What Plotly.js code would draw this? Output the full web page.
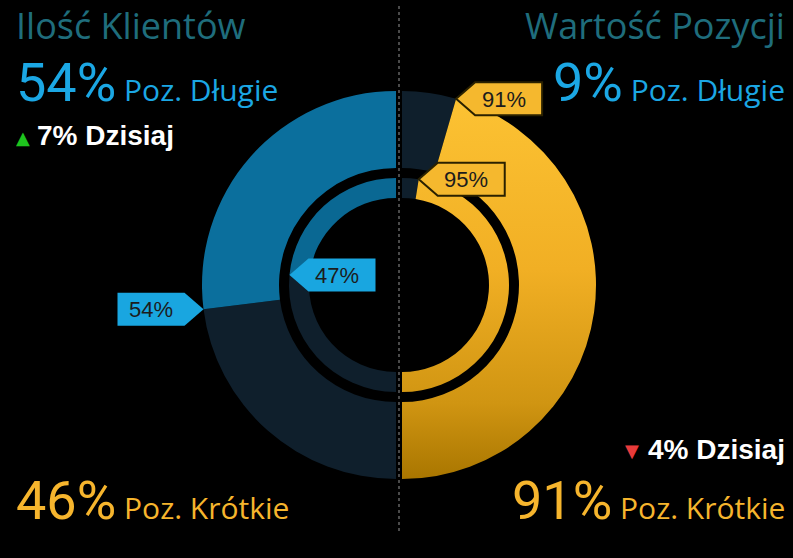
<!DOCTYPE html>
<html>
<head>
<meta charset="utf-8">
<script src="https://cdn.plot.ly/plotly-3.0.1.min.js"></script>
<style>html,body{margin:0;padding:0;background:#000;}#chart{width:793px;height:558px;}</style>
</head>
<body>
<div id="chart"></div>
<script>
// ---- data ----
const panelTitles = ['Ilość Klientów', 'Wartość Pozycji'];
const sideLabels = ['Poz. Długie', 'Poz. Krótkie'];
const clientsOuter = [54, 46];      // long, short (outer ring, left)
const clientsInner = [47];          // long (inner ring, left)
const valueOuter = [9, 91];         // long, short (outer ring, right)
const valueInner = [95];            // short (inner ring, right)
const todayChange = ['7% Dzisiaj', '4% Dzisiaj'];

// ---- style / geometry ----
const W = 793, H = 558;
const CXL = 396, CXR = 402, CY = 285;
const RO = 194, ROH = 117, RI = 107, RIH = 87;
const BLUE = '#0b6f9d', BLUE_IN = '#0a6893', NAVY = '#0f1f2c', ORANGE = '#f0ae24', CLEAR = 'rgba(0,0,0,0)';
const TEAL = '#1f6d7c', TXT_BLUE = '#1ba7e4', TXT_OR = '#f6b52d';
const TAG_BLUE = '#19a6e0', TAG_OR = '#f5b82e';

const px = x => x / W;
const py = y => 1 - y / H;
const dom = (cx, r) => ({x: [px(cx - r), px(cx + r)], y: [py(CY + r), py(CY - r)]});
const sum = a => a.reduce((s, v) => s + v, 0);

// all pies drawn clockwise from 12 o'clock
function pie(vals, colors, cx, r, hole) {
  return {
    type: 'pie', values: vals, sort: false, direction: 'clockwise', rotation: 0,
    hole: hole, domain: dom(cx, r), textinfo: 'none', hoverinfo: 'skip',
    marker: {colors: colors, line: {width: 0}}, showlegend: false
  };
}

const inL = [clientsInner[0], 100 - clientsInner[0]];
const inR = [100 - valueInner[0], valueInner[0]];

const data = [
  // left half: empty right half first, then short, then long (ending at 12 o'clock)
  pie([sum(clientsOuter), clientsOuter[1], clientsOuter[0]], [CLEAR, NAVY, BLUE], CXL, RO, ROH / RO),
  pie([sum(inL), inL[1], inL[0]], [CLEAR, NAVY, BLUE_IN], CXL, RI, RIH / RI),
  // right half: long then short, empty left half last
  pie([valueOuter[0], valueOuter[1], sum(valueOuter)], [NAVY, ORANGE, CLEAR], CXR, RO, ROH / RO),
  pie([inR[0], inR[1], sum(inR)], [NAVY, ORANGE, CLEAR], CXR, RI, RIH / RI)
];

const shapes = [{
  type: 'line', xref: 'paper', yref: 'paper', x0: px(399), x1: px(399), y0: py(6), y1: py(532),
  line: {color: '#4a4a4a', width: 2, dash: 'dot'}
}];
const annotations = [];

function tag(cx, r, frac, sign, dir, fill, border, label) {
  const th = frac * Math.PI;
  const tx = cx + sign * r * Math.sin(th), ty = CY - r * Math.cos(th);
  const P = 19, TW = 67, TH = 33;
  const b0 = tx + dir * P, b1 = tx + dir * (P + TW);
  const path = 'M' + px(tx) + ',' + py(ty) + ' L' + px(b0) + ',' + py(ty - TH / 2) + ' L' + px(b1) + ',' + py(ty - TH / 2) +
    ' L' + px(b1) + ',' + py(ty + TH / 2) + ' L' + px(b0) + ',' + py(ty + TH / 2) + ' Z';
  shapes.push({type: 'path', xref: 'paper', yref: 'paper', path: path, fillcolor: fill,
    line: {color: border || fill, width: border ? 2 : 0}});
  const shift = dir > 0 ? -5 : 0;
  annotations.push({xref: 'paper', yref: 'paper', x: px((b0 + b1) / 2 + shift), y: py(ty + 0.5), xanchor: 'center', yanchor: 'middle',
    text: label, showarrow: false, borderpad: 0, borderwidth: 0,
    font: {family: 'Arial, Liberation Sans', size: 22, color: '#1c1c1c'}});
}

tag(CXL, RO, clientsOuter[0] / 100, -1, -1, TAG_BLUE, null, clientsOuter[0] + '%');
tag(CXL, RI, clientsInner[0] / 100, -1, 1, TAG_BLUE, null, clientsInner[0] + '%');
tag(CXR, RO, valueOuter[0] / 100, 1, 1, TAG_OR, '#2a2100', valueOuter[1] + '%');
tag(CXR, RI, inR[0] / 100, 1, 1, TAG_OR, '#2a2100', valueInner[0] + '%');

function txt(x, y, xa, text, size, color, family, weight) {
  annotations.push({xref: 'paper', yref: 'paper', x: px(x), y: py(y), xanchor: xa, yanchor: 'middle', text: text,
    showarrow: false, borderpad: 0, borderwidth: 0,
    font: {family: family || 'Open Sans', size: size, color: color, weight: weight || 'normal'}});
}
const big = v => "<span style='font-family:Roboto;font-size:54px'>" + v + '%</span> ';

txt(16, 26, 'left', panelTitles[0], 36, TEAL);
txt(785, 26, 'right', panelTitles[1], 36, TEAL);
txt(16, 82.4, 'left', big(clientsOuter[0]) + sideLabels[0], 30, TXT_BLUE);
txt(785, 82.4, 'right', big(valueOuter[0]) + sideLabels[0], 30, TXT_BLUE);
txt(16, 500, 'left', big(clientsOuter[1]) + sideLabels[1], 30, TXT_OR);
txt(785, 500, 'right', big(valueOuter[1]) + sideLabels[1], 30, TXT_OR);
txt(37, 135.5, 'left', todayChange[0], 28, '#ffffff', 'Arial, Liberation Sans', 'bold');
txt(785, 449.5, 'right', todayChange[1], 28, '#ffffff', 'Arial, Liberation Sans', 'bold');
txt(23, 137, 'center', '▲', 18, '#1ec41e', 'DejaVu Sans');
txt(632, 450, 'center', '▼', 18, '#e83b3b', 'DejaVu Sans');

const layout = {
  width: W, height: H, margin: {l: 0, r: 0, t: 0, b: 0},
  paper_bgcolor: '#000000', plot_bgcolor: '#000000', showlegend: false,
  shapes: shapes, annotations: annotations
};

Plotly.newPlot('chart', data, layout, {staticPlot: true, displayModeBar: false}).then(gd => {
  const svg = gd.querySelector('.main-svg');
  const defs = svg.querySelector('defs');
  const ns = 'http://www.w3.org/2000/svg';
  const paths = Array.from(gd.querySelectorAll('.pielayer path.surface'));
  const target = 'rgb(240, 174, 36)';
  const orangePaths = paths.filter(p => getComputedStyle(p).fill === target);
  if (!orangePaths.length) return;
  let bb = orangePaths[0].getBBox();
  orangePaths.forEach(p => { const b = p.getBBox(); if (b.height > bb.height) { bb = b; } });
  const g = document.createElementNS(ns, 'linearGradient');
  g.setAttribute('id', 'orgrad');
  g.setAttribute('gradientUnits', 'userSpaceOnUse');
  g.setAttribute('x1', 0); g.setAttribute('x2', 0);
  g.setAttribute('y1', bb.y); g.setAttribute('y2', bb.y + bb.height);
  [[0, '#fcc233'], [0.45, '#f1af24'], [0.8, '#d09512'], [1, '#a97600']].forEach(s => {
    const st = document.createElementNS(ns, 'stop');
    st.setAttribute('offset', s[0]); st.setAttribute('stop-color', s[1]);
    g.appendChild(st);
  });
  defs.appendChild(g);
  orangePaths.forEach(p => { p.style.fill = 'url(#orgrad)'; });
});
</script>
</body>
</html>
